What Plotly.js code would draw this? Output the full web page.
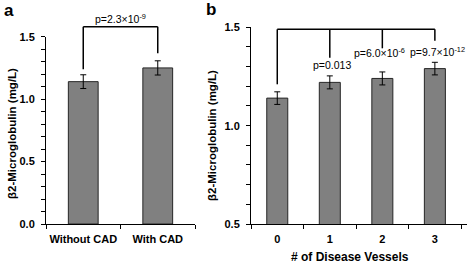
<!DOCTYPE html>
<html><head><meta charset="utf-8">
<script src="https://cdn.plot.ly/plotly-3.0.1.min.js"></script>
<style>html,body{margin:0;padding:0;background:#fff}#c{width:473px;height:265px}</style>
</head><body><div id="c"></div>
<script>
// Panel a
const catsA = ['Without CAD', 'With CAD'];
const valsA = [1.14, 1.25];
const errA = [0.055, 0.057];
const pA = 'p=2.3×10<sup>-9</sup>';
// Panel b
const catsB = ['0', '1', '2', '3'];
const valsB = [1.14, 1.22, 1.24, 1.29];
const errB = [0.032, 0.033, 0.033, 0.032];
const pB = ['p=0.013', 'p=6.0×10<sup>-6</sup>', 'p=9.7×10<sup>-12</sup>'];

const FONT = 'Liberation Sans, Arial, sans-serif';
const W = 473, H = 265;
const px = v => v / W, py = v => 1 - v / H;

const barStyle = {color: '#808080', line: {color: '#262626', width: 1}};
const errStyle = {type: 'data', visible: true, color: '#000', thickness: 1, width: 3};

const traces = [
  {type: 'bar', x: catsA, y: valsA, error_y: Object.assign({array: errA}, errStyle),
   marker: barStyle, xaxis: 'x', yaxis: 'y', hoverinfo: 'none'},
  {type: 'bar', x: catsB, y: valsB, error_y: Object.assign({array: errB}, errStyle),
   marker: barStyle, xaxis: 'x2', yaxis: 'y2', hoverinfo: 'none'}
];

const tickFont = {family: FONT, size: 11, color: '#000', weight: 'bold'};
const xTickFont = {family: FONT, size: 11, color: '#000', weight: 'bold'};

function yax(domain, range, anchor) {
  return {domain: domain, range: range, anchor: anchor, showgrid: false, zeroline: false,
    showline: true, linecolor: '#000', linewidth: 1, ticks: 'outside', ticklen: 4,
    tickcolor: '#000', tickwidth: 1, dtick: 0.5, tick0: 0, tickformat: '.1f',
    tickfont: tickFont, ticklabelstandoff: 4,
    minor: {dtick: 0.1, ticks: 'outside', ticklen: 4, tickcolor: '#000', tickwidth: 1, showgrid: false}};
}
function xax(domain, anchor) {
  return {domain: domain, anchor: anchor, type: 'category', showgrid: false, zeroline: false,
    showline: true, linecolor: '#000', linewidth: 1, ticks: 'outside', ticklen: 4,
    tickcolor: '#000', tickwidth: 1, tickson: 'boundaries', tickfont: xTickFont,
    tickangle: 0, ticklabelstandoff: 5};
}

const shapes = [];
function seg(xref, x0, y0, x1, y1) {
  shapes.push({type: 'line', xref: xref, yref: 'paper', x0: x0, x1: x1, y0: py(y0), y1: py(y1),
    line: {color: '#000', width: 1.5}});
}
// panel a bracket
seg('x', 0, 26.7, 1, 26.7);
seg('x', 0, 26.7, 0, 69.3);
seg('x', 1, 26.7, 1, 53.3);
// panel b bracket
const legBottomsB = [84.3, 57.7, 48.3, 40.7];
seg('x2', 0, 29.3, 3, 29.3);
legBottomsB.forEach((b, i) => seg('x2', i, 29.3, i, b));

const pfont = {family: FONT, size: 10.5, color: '#000'};
const C = {xanchor: 'center', yanchor: 'middle', showarrow: false};
const annotations = [
  Object.assign({text: 'a', xref: 'paper', yref: 'paper', x: px(9), y: py(11),
   font: {family: FONT, size: 17, color: '#000', weight: 'bold'}}, C),
  Object.assign({text: 'b', xref: 'paper', yref: 'paper', x: px(211), y: py(10),
   font: {family: FONT, size: 17, color: '#000', weight: 'bold'}}, C),
  Object.assign({text: 'β2-Microglobulin (mg/L)', xref: 'paper', yref: 'paper', x: px(12), y: py(134),
   textangle: -90, font: {family: FONT, size: 11.5, color: '#000', weight: 'bold'}}, C),
  Object.assign({text: 'β2-Microglobulin (mg/L)', xref: 'paper', yref: 'paper', x: px(212), y: py(136),
   textangle: -90, font: {family: FONT, size: 11.5, color: '#000', weight: 'bold'}}, C),
  Object.assign({text: '# of Disease Vessels', xref: 'paper', yref: 'paper', x: px(350), y: py(257),
   font: {family: FONT, size: 12, color: '#000', weight: 'bold'}}, C),
  Object.assign({text: pA, xref: 'x', yref: 'paper', x: 0.5, y: py(19), font: pfont}, C),
  Object.assign({text: pB[0], xref: 'x2', yref: 'paper', x: 1.05, y: py(65), font: pfont}, C),
  Object.assign({text: pB[1], xref: 'x2', yref: 'paper', x: 1.94, y: py(53), font: pfont}, C),
  Object.assign({text: pB[2], xref: 'x2', yref: 'paper', x: 3.05, y: py(51.5), font: pfont}, C)
];

const layout = {
  width: W, height: H, margin: {l: 0, r: 0, t: 0, b: 0},
  paper_bgcolor: '#fff', plot_bgcolor: '#fff', showlegend: false, bargap: 0.6,
  xaxis: xax([px(46), px(195)], 'y'),
  yaxis: yax([py(224), py(36.7)], [0, 1.5], 'x'),
  xaxis2: xax([px(251), px(467)], 'y2'),
  yaxis2: yax([py(224), py(27.3)], [0.5, 1.5], 'x2'),
  shapes: shapes, annotations: annotations
};
Plotly.newPlot('c', traces, layout, {staticPlot: true});
</script></body></html>
